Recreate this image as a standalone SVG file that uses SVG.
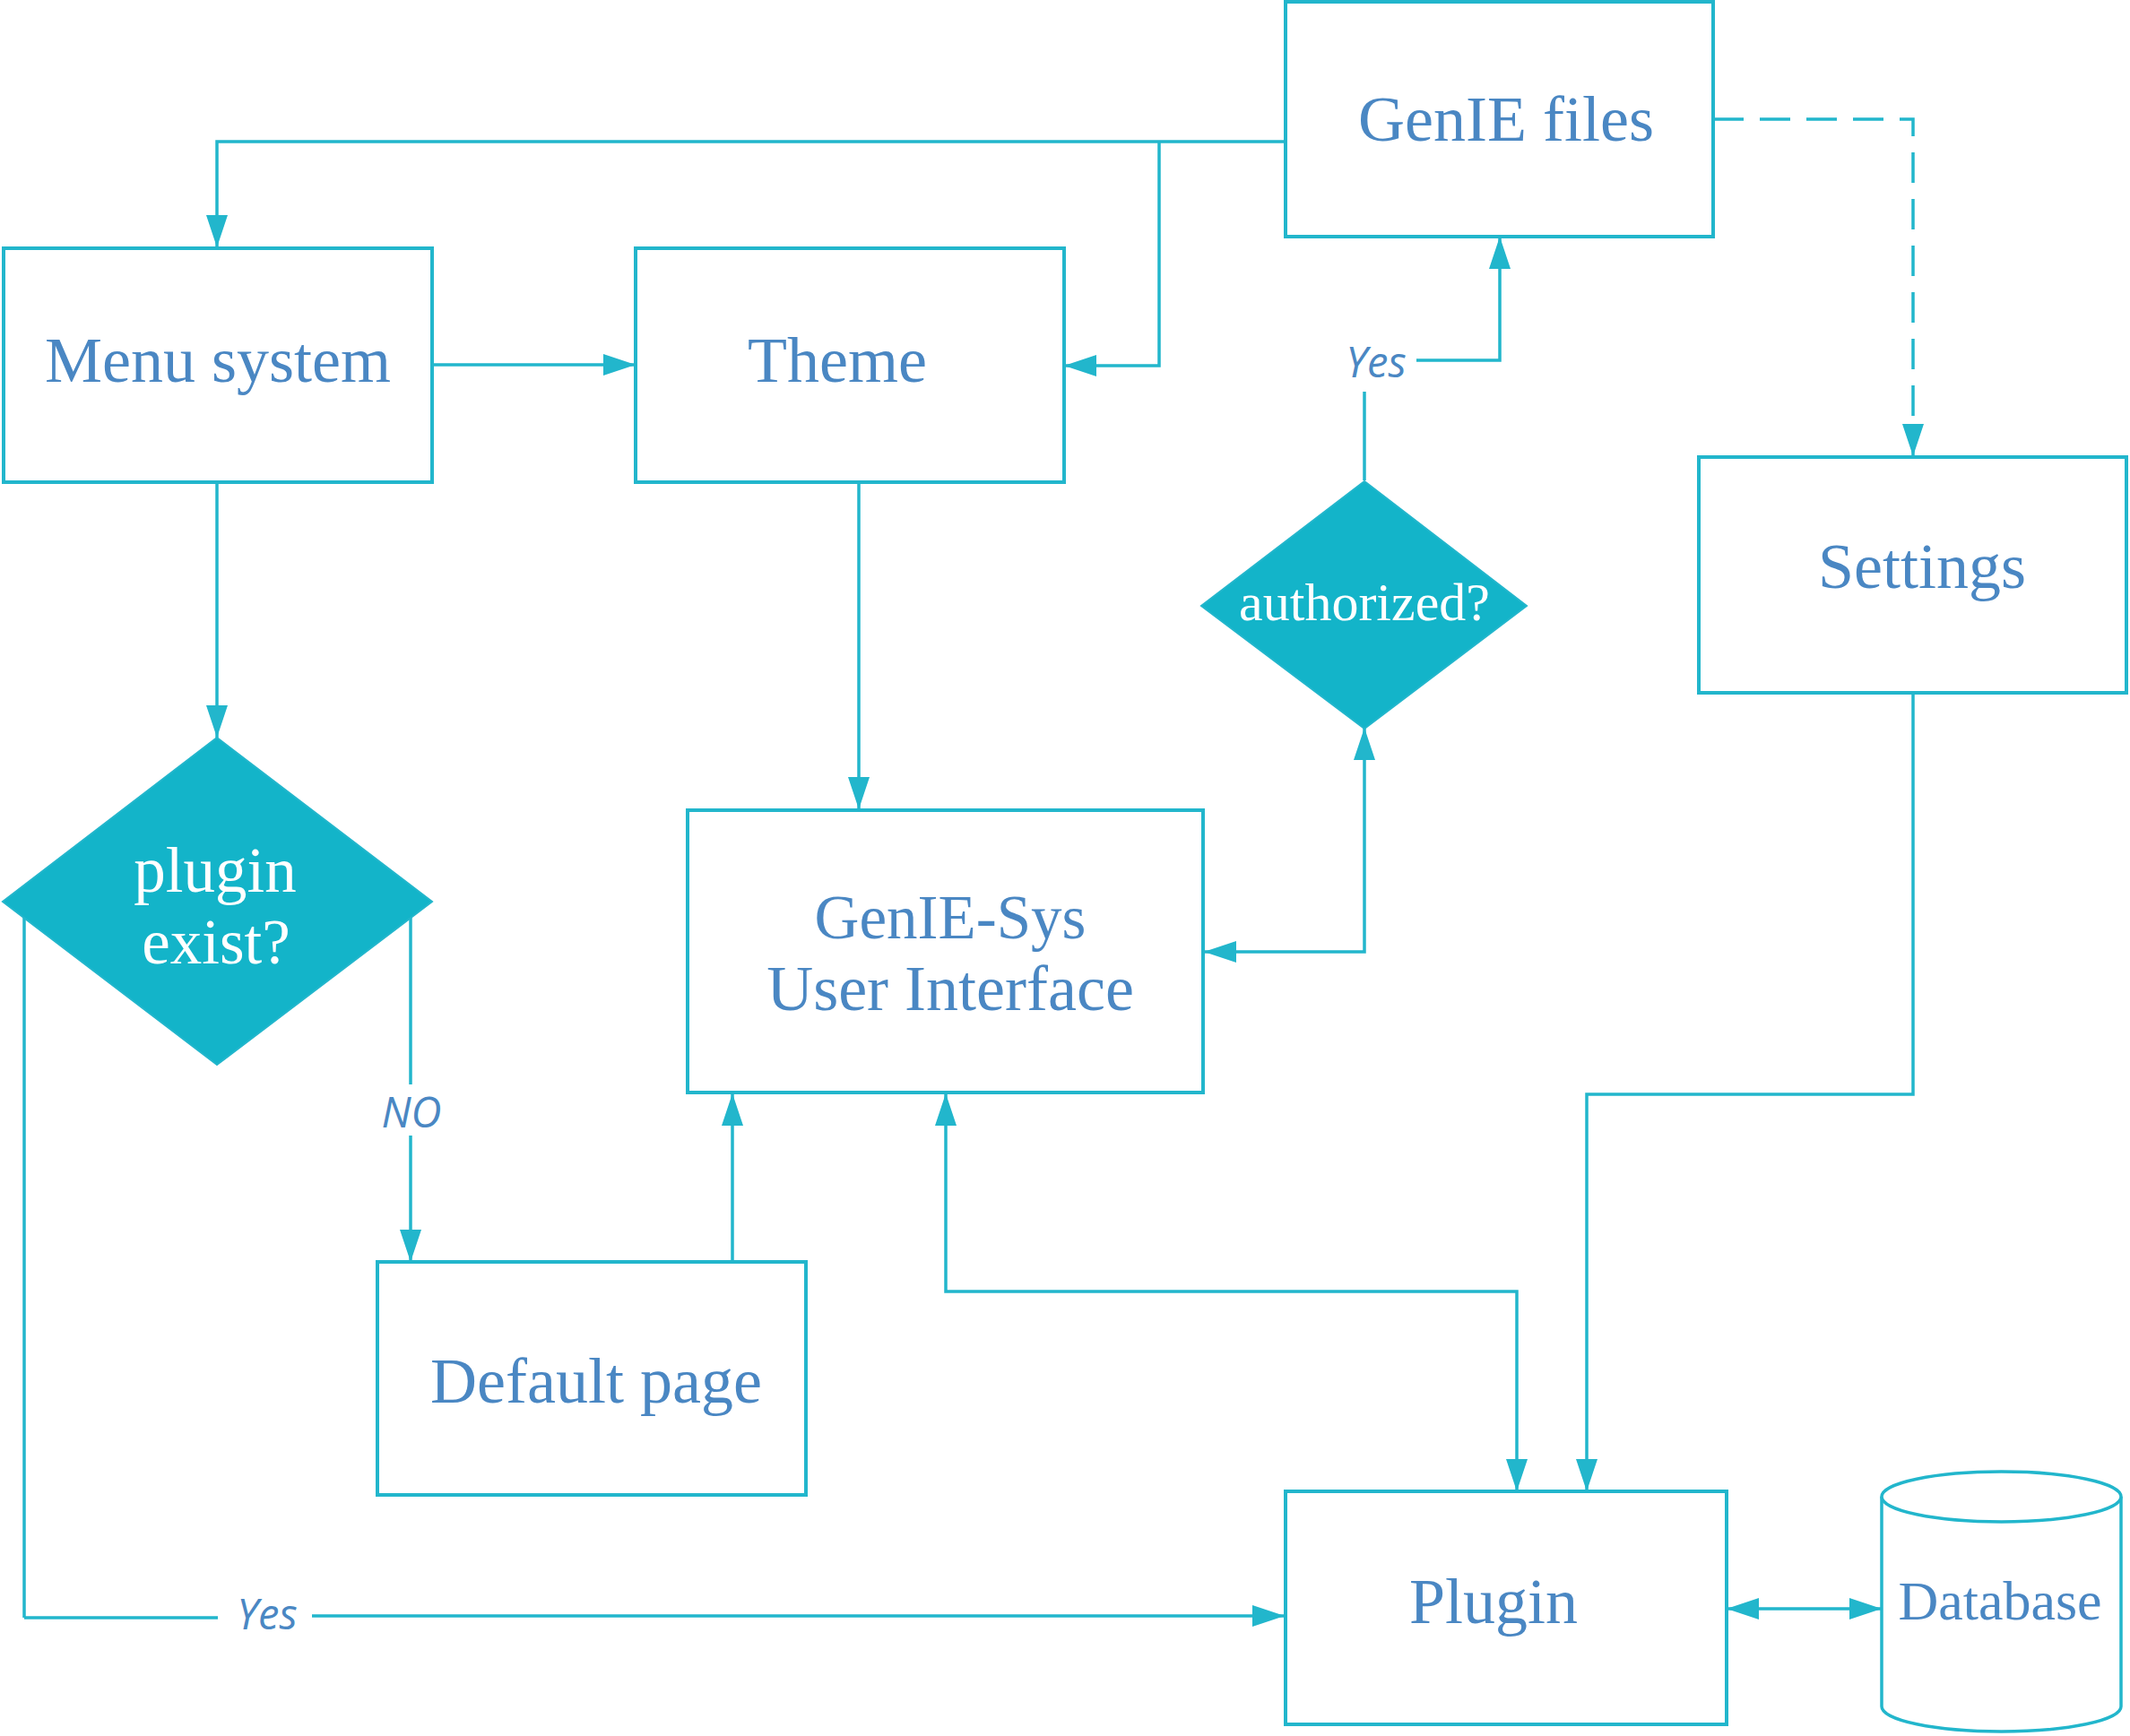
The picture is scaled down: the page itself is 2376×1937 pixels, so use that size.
<svg xmlns="http://www.w3.org/2000/svg" width="2376" height="1937" viewBox="0 0 2376 1937">
<style>
.box{fill:#ffffff;stroke:#22b6cc;stroke-width:4}
.dia{fill:#13b4c9;stroke:#22b6cc;stroke-width:2}
.lbl{font-family:"Liberation Serif","Times New Roman",serif;font-size:72px;fill:#4a87c3;text-anchor:middle}
.wlbl{font-family:"Liberation Serif","Times New Roman",serif;fill:#ffffff;text-anchor:middle}
.elbl{font-family:"Open Sans","DejaVu Sans",sans-serif;font-style:italic;font-size:47px;fill:#4a87c3;text-anchor:middle}
.con{fill:none;stroke:#22b6cc;stroke-width:3.5}
.arr{marker-end:url(#ah)}
.both{marker-start:url(#ah);marker-end:url(#ah)}
</style>
<defs>
<marker id="ah" viewBox="0 0 36 24" refX="36" refY="12" markerWidth="36" markerHeight="24" markerUnits="userSpaceOnUse" orient="auto-start-reverse">
<path d="M0,0 L36,12 L0,24 Z" fill="#22b6cc"/>
</marker>
</defs>
<rect width="2376" height="1937" fill="#ffffff"/>

<g id="connectors">
<path class="con arr" d="M1433,158 H242 V276"/>
<path class="con arr" d="M1293,158 V408 H1187"/>
<path class="con arr" d="M482,407 H709"/>
<path class="con arr" d="M242,538 V823"/>
<path class="con arr" d="M958,538 V903"/>
<path class="con both" d="M1343,1062 H1522 V812"/>
<path class="con" d="M1522,536 V437"/>
<path class="con arr" d="M1580,402 H1673 V264"/>
<path class="con arr" d="M1911,133 H2134 V509" stroke-dasharray="34 18"/>
<path class="con arr" d="M2134,773 V1221 H1770 V1664"/>
<path class="con both" d="M1055,1220 V1441 H1692 V1664"/>
<path class="con arr" d="M817,1408 V1220"/>
<path class="con" d="M458,1024 V1210"/>
<path class="con arr" d="M458,1267 V1408"/>
<path class="con" d="M27,1024 V1805"/>
<path class="con" d="M27,1805 H243" stroke-width="6"/>
<path class="con arr" d="M348,1803 H1433"/>
<path class="con both" d="M1926,1795 H2099"/>
<text class="elbl" x="1535" y="421">Yes</text>
<text class="elbl" x="459" y="1258">NO</text>
<text class="elbl" x="298" y="1818">Yes</text>
</g>

<g id="genie-files">
<rect class="box" x="1434" y="2" width="477" height="262"/>
<text class="lbl" x="1680" y="157">GenIE files</text>
</g>
<g id="menu-system">
<rect class="box" x="4" y="277" width="478" height="261"/>
<text class="lbl" x="243" y="426">Menu system</text>
</g>
<g id="theme">
<rect class="box" x="709" y="277" width="478" height="261"/>
<text class="lbl" x="934" y="426">Theme</text>
</g>
<g id="settings">
<rect class="box" x="1895" y="510" width="477" height="263"/>
<text class="lbl" x="2144" y="656">Settings</text>
</g>
<g id="authorized">
<polygon class="dia" points="1522,537 1703,676 1522,813 1340,676"/>
<text class="wlbl" x="1522" y="692" font-size="60">authorized?</text>
</g>
<g id="plugin-exist">
<polygon class="dia" points="242,823 482,1006 242,1188 3,1006"/>
<text class="wlbl" x="240" y="995" font-size="71">plugin</text>
<text class="wlbl" x="241" y="1075" font-size="71">exist?</text>
</g>
<g id="genie-sys-ui">
<rect class="box" x="767" y="904" width="575" height="315"/>
<text class="lbl" x="1060" y="1047" style="font-size:69px">GenIE-Sys</text>
<text class="lbl" x="1060" y="1127">User Interface</text>
</g>
<g id="default-page">
<rect class="box" x="421" y="1408" width="478" height="260"/>
<text class="lbl" x="665" y="1565">Default page</text>
</g>
<g id="plugin">
<rect class="box" x="1434" y="1664" width="492" height="260"/>
<text class="lbl" x="1666" y="1811">Plugin</text>
</g>
<g id="database">
<path d="M2099,1670 V1904 A133.5,28 0 0 0 2366,1904 V1670" fill="#ffffff" stroke="#22b6cc" stroke-width="3.5"/>
<ellipse cx="2232.5" cy="1670" rx="133.5" ry="28" fill="#ffffff" stroke="#22b6cc" stroke-width="3.5"/>
<text class="lbl" x="2231" y="1807" style="font-size:62px">Database</text>
</g>
</svg>
